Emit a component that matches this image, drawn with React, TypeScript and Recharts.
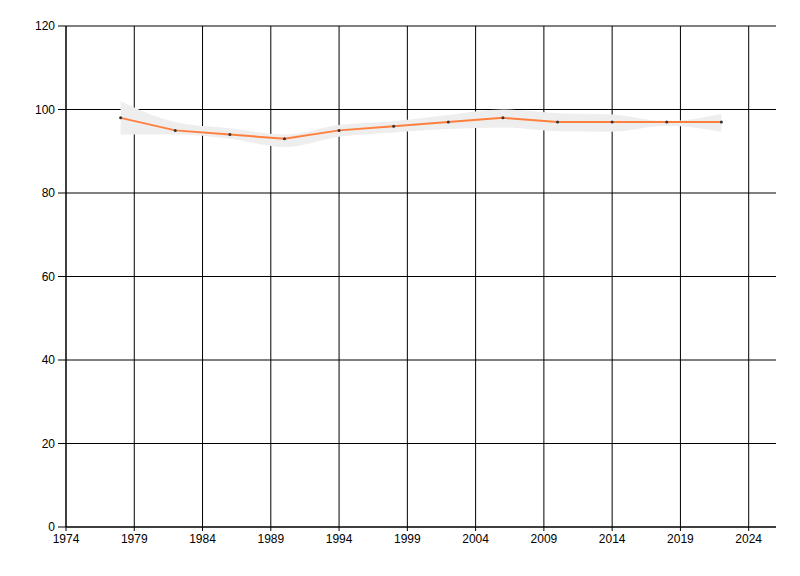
import { ComposedChart, Line, Area, XAxis, YAxis, CartesianGrid } from 'recharts'

const years = [1978, 1982, 1986, 1990, 1994, 1998, 2002, 2006, 2010, 2014, 2018, 2022]
const values = [98, 95, 94, 93, 95, 96, 97, 98, 97, 97, 97, 97]
const lower = [94, 94, 93, 91, 93.5, 94.5, 95.3, 95.7, 94.8, 94.7, 96.1, 94.7]
const upper = [102, 97, 95.5, 94, 96.3, 97.2, 98.7, 100, 99.1, 98.8, 97.2, 98.9]

const xTicks = [1974, 1979, 1984, 1989, 1994, 1999, 2004, 2009, 2014, 2019, 2024]
const yTicks = [0, 20, 40, 60, 80, 100, 120]

const data = years.map((year, i) => ({
  year,
  value: values[i],
  band: [lower[i], upper[i]],
}))

const tickStyle = { fill: '#000', fontSize: 12, fontFamily: '"Liberation Sans Narrow", "Liberation Sans", Arial, sans-serif' }

export default function App() {
  return (
    <ComposedChart width={784} height={560} data={data} margin={{ top: 18, right: 16, left: 0, bottom: 0 }}>
      <CartesianGrid stroke="#000" strokeWidth={1} horizontalValues={yTicks} verticalValues={xTicks} />
      <XAxis
        dataKey="year"
        type="number"
        domain={[1974, 2026]}
        ticks={xTicks}
        interval={0}
        allowDataOverflow
        height={41}
        tick={tickStyle}
        tickSize={4}
        tickMargin={3}
        stroke="#000"
      />
      <YAxis
        type="number"
        domain={[0, 120]}
        ticks={yTicks}
        interval={0}
        width={58}
        tick={tickStyle}
        tickSize={8}
        tickMargin={3}
        stroke="#000"
      />
      <Area
        dataKey="band"
        type="monotone"
        fill="#eeeeee"
        fillOpacity={1}
        stroke="none"
        isAnimationActive={false}
        activeDot={false}
      />
      <Line
        dataKey="value"
        type="linear"
        stroke="#ff7f3f"
        strokeWidth={2}
        dot={{ r: 1.5, fill: '#333', stroke: 'none' }}
        activeDot={false}
        isAnimationActive={false}
      />
    </ComposedChart>
  )
}
